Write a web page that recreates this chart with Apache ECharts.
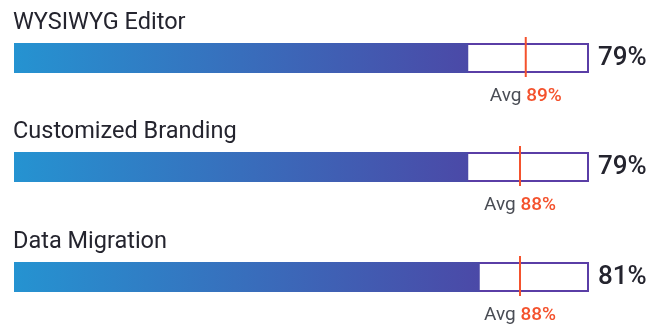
<!DOCTYPE html>
<html>
<head>
<meta charset="utf-8">
<script src="https://cdn.jsdelivr.net/npm/echarts@6/dist/echarts.min.js"></script>
<style>
  html, body { margin: 0; padding: 0; background: #fff; }
  #chart { width: 668px; height: 327px; }
</style>
</head>
<body>
<div id="chart"></div>
<script>
// Feature scores versus the average score
const categories = ['WYSIWYG Editor', 'Customized Branding', 'Data Migration'];
const scores = [79, 79, 81];
const averages = [89, 88, 88];
const maxValue = 100;

const rowTops = [43, 152, 262];
const barHeight = 30;
const font = 'Roboto, "Noto Sans", sans-serif';

const grids = [], xAxes = [], yAxes = [], series = [], titles = [];

categories.forEach((name, i) => {
  grids.push({ left: 14, right: 79, top: rowTops[i], height: barHeight });
  xAxes.push({ gridIndex: i, type: 'value', min: 0, max: maxValue, show: false });
  yAxes.push({ gridIndex: i, type: 'category', data: [name], show: false });
  titles.push({
    text: name, left: 13, top: rowTops[i] - 32, padding: 0,
    textStyle: { fontFamily: font, fontSize: 23.5, fontWeight: 'normal', color: '#24242e' }
  });

  // full-scale track with outline and value label
  series.push({
    type: 'bar', xAxisIndex: i, yAxisIndex: i, barWidth: barHeight, z: 1,
    silent: true, animation: false,
    data: [maxValue],
    itemStyle: { color: '#fff', borderColor: '#5a3ea6', borderWidth: 2 },
    label: {
      show: true, position: 'right', distance: 9,
      formatter: () => scores[i] + '%',
      fontFamily: font, fontSize: 26, fontWeight: 500, color: '#24242e'
    }
  });
  // score fill
  series.push({
    type: 'bar', xAxisIndex: i, yAxisIndex: i, barWidth: barHeight, barGap: '-100%', z: 2,
    silent: true, animation: false,
    data: [scores[i]],
    itemStyle: {
      color: new echarts.graphic.LinearGradient(0, 0, 1, 0, [
        { offset: 0, color: '#2593d1' },
        { offset: 1, color: '#4b49a7' }
      ])
    }
  });
  // average marker
  series.push({
    type: 'scatter', xAxisIndex: i, yAxisIndex: i, z: 3,
    silent: true, animation: false,
    symbol: 'rect', symbolSize: [2, 40], symbolOffset: [0, -1],
    data: [[averages[i], name]],
    itemStyle: { color: '#f4522d', opacity: 1 },
    label: {
      show: true, position: 'bottom', distance: 10,
      formatter: () => 'Avg {v|' + averages[i] + '%}',
      fontFamily: font, fontSize: 19, color: '#4a4d55',
      rich: { v: { fontFamily: font, fontSize: 19, fontWeight: 500, color: '#f4522d' } }
    }
  });
});

const chart = echarts.init(document.getElementById('chart'), null, { renderer: 'canvas' });
chart.setOption({
  backgroundColor: '#fff',
  title: titles,
  grid: grids,
  xAxis: xAxes,
  yAxis: yAxes,
  series: series
});
</script>
</body>
</html>
